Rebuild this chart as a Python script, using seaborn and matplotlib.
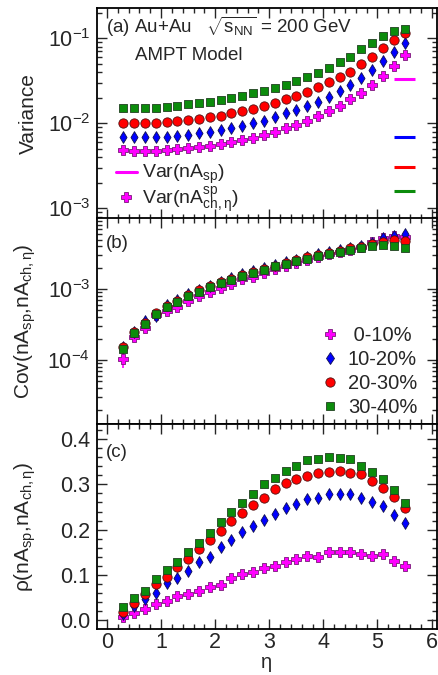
import numpy as np
import pandas as pd
import matplotlib
matplotlib.use("Agg")
import matplotlib.pyplot as plt
import seaborn as sns
from matplotlib.lines import Line2D
from matplotlib.ticker import MultipleLocator, LogLocator, NullFormatter, FormatStrFormatter

sns.set_style("ticks")
plt.rcParams['font.family'] = ['Liberation Sans', 'DejaVu Sans']
plt.rcParams['mathtext.fontset'] = 'custom'
plt.rcParams['mathtext.rm'] = 'Liberation Sans'
plt.rcParams['mathtext.it'] = 'Liberation Sans:italic'
plt.rcParams['mathtext.bf'] = 'Liberation Sans:bold'
plt.rcParams['mathtext.sf'] = 'Liberation Sans'

# ---------------- data ----------------
eta = [0.3, 0.5, 0.7, 0.9, 1.1, 1.3, 1.5, 1.7, 1.9, 2.1, 2.3, 2.5, 2.7, 2.9,
       3.1, 3.3, 3.5, 3.7, 3.9, 4.1, 4.3, 4.5, 4.7, 4.9, 5.1, 5.3, 5.5]
centralities = [' 0-10%', '10-20%', '20-30%', '30-40%']

var_010 = [0.00485, 0.00477, 0.00477, 0.00477, 0.00485, 0.00494, 0.00508, 0.00522, 0.00545,
           0.0057, 0.00597, 0.00637, 0.00678, 0.00728, 0.00797, 0.00873, 0.00956, 0.01064,
           0.0122, 0.01396, 0.016, 0.0191, 0.02253, 0.0283, 0.0361, 0.0477, 0.0637]
var_1020 = [0.00684, 0.00684, 0.00684, 0.00684, 0.00697, 0.0071, 0.00728, 0.00762, 0.00797,
            0.00834, 0.00873, 0.00929, 0.0100, 0.01074, 0.01178, 0.0131, 0.01436, 0.016,
            0.018, 0.0206, 0.0242, 0.0283, 0.0338, 0.0424, 0.0541, 0.0684, 0.0873]
var_2030 = [0.01017, 0.01017, 0.01017, 0.01017, 0.0104, 0.01064, 0.01094, 0.01125, 0.01178,
            0.0123, 0.0131, 0.01396, 0.01486, 0.0160, 0.01718, 0.0191, 0.021, 0.0236,
            0.0265, 0.0304, 0.0348, 0.0405, 0.0494, 0.0608, 0.0762, 0.0955, 0.1145]
var_3040 = [0.01528, 0.01528, 0.01528, 0.01528, 0.01567, 0.0161, 0.01675, 0.01734, 0.01796,
            0.0188, 0.01966, 0.0211, 0.02253, 0.024, 0.0258, 0.0283, 0.0318, 0.0354,
            0.0394, 0.0452, 0.0522, 0.0608, 0.0742, 0.0889, 0.1064, 0.123, 0.130]
# Var(nA_sp): eta independent, drawn as short lines
var_sp = [0.033, 0.00695, 0.00309, 0.00161]
var_sp_eta = [5.3, 5.7]

cov_010 = [1.02e-4, 2.09e-4, 2.84e-4, 4.25e-4, 4.9e-4, 5.6e-4, 6.8e-4, 7.9e-4, 9.2e-4,
           1.02e-3, 1.17e-3, 1.37e-3, 1.47e-3, 1.67e-3, 1.9e-3, 2.1e-3, 2.3e-3, 2.55e-3,
           2.85e-3, 3.1e-3, 3.35e-3, 3.6e-3, 3.9e-3, 4.6e-3, 5.3e-3, 5.6e-3, 5.5e-3]
cov_err_010 = [2.5e-5] + [0.0] * 26
cov_1020 = [1.5e-4, 2.5e-4, 3.6e-4, 4.2e-4, 6.0e-4, 7.0e-4, 8.4e-4, 9.8e-4, 1.12e-3,
            1.27e-3, 1.43e-3, 1.62e-3, 1.82e-3, 1.98e-3, 2.2e-3, 2.4e-3, 2.6e-3, 2.85e-3,
            3.1e-3, 3.35e-3, 3.6e-3, 3.85e-3, 4.1e-3, 4.5e-3, 5.2e-3, 5.6e-3, 5.9e-3]
cov_2030 = [1.5e-4, 2.5e-4, 3.3e-4, 4.6e-4, 5.8e-4, 6.9e-4, 8.2e-4, 9.6e-4, 1.1e-3,
            1.25e-3, 1.4e-3, 1.58e-3, 1.77e-3, 1.94e-3, 2.15e-3, 2.35e-3, 2.55e-3, 2.8e-3,
            3.0e-3, 3.25e-3, 3.48e-3, 3.75e-3, 3.98e-3, 4.3e-3, 4.6e-3, 5.0e-3, 4.8e-3]
cov_3040 = [1.42e-4, 2.41e-4, 3.23e-4, 4.5e-4, 5.6e-4, 6.6e-4, 7.9e-4, 9.2e-4, 1.06e-3,
            1.2e-3, 1.35e-3, 1.53e-3, 1.71e-3, 1.87e-3, 2.09e-3, 2.28e-3, 2.46e-3, 2.69e-3,
            2.9e-3, 3.13e-3, 3.34e-3, 3.6e-3, 3.81e-3, 4.03e-3, 4.17e-3, 4.03e-3, 3.75e-3]

rho_010 = [0.006, 0.016, 0.024, 0.035, 0.041, 0.052, 0.058, 0.064, 0.074, 0.077, 0.092,
           0.101, 0.106, 0.114, 0.119, 0.128, 0.135, 0.142, 0.140, 0.151, 0.151, 0.150,
           0.145, 0.142, 0.146, 0.131, 0.120]
rho_1020 = [0.013, 0.032, 0.046, 0.060, 0.081, 0.094, 0.108, 0.128, 0.140, 0.161, 0.178,
            0.195, 0.208, 0.221, 0.235, 0.247, 0.257, 0.267, 0.271, 0.279, 0.279, 0.278,
            0.271, 0.262, 0.252, 0.232, 0.215]
rho_2030 = [0.018, 0.037, 0.058, 0.080, 0.096, 0.117, 0.136, 0.156, 0.177, 0.198, 0.218,
            0.237, 0.254, 0.271, 0.290, 0.302, 0.311, 0.319, 0.326, 0.328, 0.330, 0.326,
            0.323, 0.308, 0.291, 0.273, 0.247]
rho_3040 = [0.028, 0.048, 0.064, 0.090, 0.111, 0.129, 0.150, 0.170, 0.193, 0.217, 0.238,
            0.258, 0.279, 0.300, 0.315, 0.330, 0.341, 0.354, 0.356, 0.360, 0.358, 0.356,
            0.341, 0.327, 0.311, 0.288, 0.258]

# ---------------- styles ----------------
colors = ['#ff00ff', '#0000ff', '#ff0000', '#0c8c0c']
edges = ['#7a1a7a', '#101050', '#501010', '#204020']
markers = ['P', 'd', 'o', 's']
sizes = [55, 36, 45, 38]

fig = plt.figure(figsize=(4.39, 6.75), dpi=100)
L, W = 97 / 439, 340 / 439
ax_a = fig.add_axes([L, 1 - 218.5 / 675, W, 210.2 / 675])
ax_b = fig.add_axes([L, 1 - 424 / 675, W, 205.5 / 675])
ax_c = fig.add_axes([L, 1 - 629 / 675, W, 205 / 675])


def style_ax(ax):
    ax.set_xlim(-0.185, 6.1)
    ax.xaxis.set_major_locator(MultipleLocator(1))
    ax.xaxis.set_minor_locator(MultipleLocator(0.2))
    ax.tick_params(which='both', direction='in', top=True, right=True, width=1.0)
    ax.tick_params(which='major', length=7, labelsize=15.5, pad=5)
    ax.tick_params(which='minor', length=3.5)
    for s in ax.spines.values():
        s.set_linewidth(1.3)
        s.set_color('black')


def draw(ax, series):
    for i, vals in enumerate(series):
        sns.scatterplot(x=eta, y=vals, ax=ax, marker=markers[i], s=sizes[i],
                        color=colors[i], edgecolor=edges[i], linewidth=0.6,
                        zorder=3 + i, legend=False)


# panel (a)
draw(ax_a, [var_010, var_1020, var_2030, var_3040])
for i, v in enumerate(var_sp):
    ax_a.hlines(v, var_sp_eta[0], var_sp_eta[1], colors=colors[i], lw=2.2, zorder=2)
ax_a.set_yscale('log')
ax_a.set_ylim(7.6e-4, 0.2255)

# panel (b)
ax_b.errorbar(eta, cov_010, yerr=cov_err_010, fmt='none', ecolor=colors[0], elinewidth=1.2, zorder=2)
draw(ax_b, [cov_010, cov_1020, cov_2030, cov_3040])
ax_b.set_yscale('log')
ax_b.set_ylim(1.25e-5, 0.0099)

# panel (c)
draw(ax_c, [rho_010, rho_1020, rho_2030, rho_3040])
ax_c.set_ylim(-0.0199, 0.4336)
ax_c.yaxis.set_major_locator(MultipleLocator(0.1))
ax_c.yaxis.set_minor_locator(MultipleLocator(0.02))
ax_c.yaxis.set_major_formatter(FormatStrFormatter('%.1f'))

for ax in (ax_a, ax_b, ax_c):
    style_ax(ax)
for ax in (ax_a, ax_b):
    ax.yaxis.set_major_locator(LogLocator(base=10))
    ax.yaxis.set_minor_locator(LogLocator(base=10, subs=np.arange(2, 10)))
    ax.yaxis.set_minor_formatter(NullFormatter())
    ax.tick_params(axis='x', labelbottom=False)
    ax.set_xlabel('')

ax_c.set_xticks([0, 1, 2, 3, 4, 5, 6])
ax_c.set_xticklabels(['0', '1', '2', '3', '4', '5', '6'])
ax_c.tick_params(axis='x', which='major', pad=2.5)

ax_a.set_ylabel('Variance', fontsize=15)
ax_b.set_ylabel(r'Cov(nA$_{\rm sp}$,nA$_{\rm ch,η}$)', fontsize=15)
ax_c.set_ylabel(r'ρ(nA$_{\rm sp}$,nA$_{\rm ch,η}$)', fontsize=15)
for ax in (ax_a, ax_b, ax_c):
    ax.yaxis.set_label_coords(-0.175, 0.5)
ax_c.set_xlabel('η', fontsize=14.5)
ax_c.xaxis.set_label_coords(0.5, -0.118)

# texts
ax_a.text(0.026, 0.884, r'(a) Au+Au   $\sqrt{\mathrm{s}_{\rm NN}}$ = 200 GeV', transform=ax_a.transAxes,
          fontsize=13.5, va='baseline')
ax_a.text(0.112, 0.754, 'AMPT Model', transform=ax_a.transAxes, fontsize=13.5, va='baseline')
ax_b.text(0.026, 0.855, '(b)', transform=ax_b.transAxes, fontsize=13.5, va='baseline')
ax_c.text(0.026, 0.84, '(c)', transform=ax_c.transAxes, fontsize=13.5, va='baseline')

# legends
h_a = [Line2D([], [], color=colors[0], lw=2.2),
       Line2D([], [], marker='P', ls='', ms=7.4, mfc=colors[0], mec=edges[0], mew=0.6)]
lab_a = [r'Var(nA$_{\rm sp}$)', r'Var(nA$^{\rm sp}_{\rm ch,η}$)']
ax_a.legend(h_a, lab_a, loc='center left', bbox_to_anchor=(0.055, 0.14), frameon=False,
            fontsize=14, handlelength=1.1, handletextpad=0.25, labelspacing=-0.1,
            borderpad=0, borderaxespad=0)

ms_leg = [7.4, 6.0, 6.7, 6.2]
h_b = [Line2D([], [], marker=markers[i], ls='', ms=ms_leg[i], mfc=colors[i], mec=edges[i], mew=0.6)
       for i in range(4)]
ax_b.legend(h_b, centralities, loc='center left', bbox_to_anchor=(0.657, 0.256), frameon=False,
            fontsize=14.5, handlelength=1.0, handletextpad=0.36, labelspacing=0.25,
            borderpad=0, borderaxespad=0)

fig.savefig('out.png', dpi=100)
